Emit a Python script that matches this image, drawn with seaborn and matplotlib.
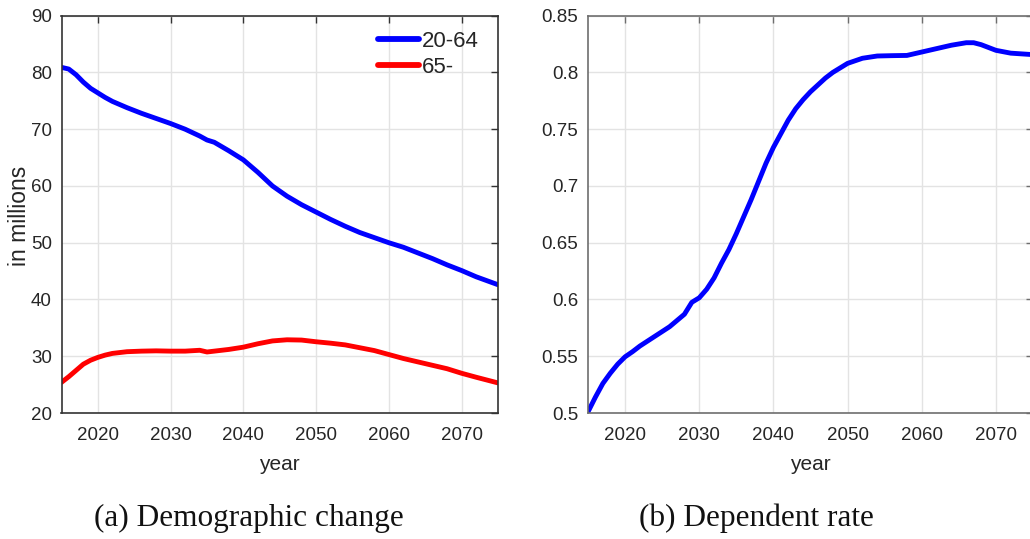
import matplotlib
matplotlib.use("Agg")
import matplotlib.pyplot as plt
import seaborn as sns
import pandas as pd
from matplotlib.ticker import FuncFormatter

# ---- data ----
years_working = [2015, 2016, 2017, 2018, 2019, 2020, 2021, 2022, 2024, 2026, 2028, 2030, 2032,
                 2034, 2035, 2036, 2038, 2040, 2042, 2044, 2046, 2048, 2050, 2052, 2054, 2056,
                 2058, 2060, 2062, 2064, 2066, 2068, 2070, 2072, 2075]
working_age = [80.9, 80.6, 79.6, 78.3, 77.2, 76.4, 75.6, 74.9, 73.8, 72.8, 71.9, 71.0, 70.0,
               68.8, 68.1, 67.7, 66.2, 64.6, 62.4, 60.0, 58.2, 56.7, 55.4, 54.1, 52.9, 51.8,
               50.9, 50.0, 49.2, 48.2, 47.2, 46.1, 45.1, 44.0, 42.6]

years_elderly = [2015, 2016, 2017, 2018, 2019, 2020, 2021, 2022, 2024, 2026, 2028, 2030, 2032,
                 2034, 2035, 2036, 2038, 2040, 2042, 2044, 2046, 2048, 2050, 2052, 2054, 2056,
                 2058, 2060, 2062, 2064, 2066, 2068, 2070, 2072, 2075]
elderly = [25.4, 26.4, 27.5, 28.6, 29.3, 29.8, 30.2, 30.5, 30.8, 30.9, 30.95, 30.9, 30.9,
           31.05, 30.75, 30.9, 31.2, 31.6, 32.2, 32.7, 32.9, 32.85, 32.55, 32.3, 32.0, 31.5,
           31.0, 30.3, 29.6, 29.0, 28.4, 27.8, 27.0, 26.3, 25.3]

years_ratio = [2015, 2016, 2017, 2018, 2019, 2020, 2021, 2022, 2024, 2026, 2028, 2029, 2030,
               2031, 2032, 2033, 2034, 2035, 2036, 2037, 2038, 2039, 2040, 2041, 2042, 2043,
               2044, 2045, 2046, 2047, 2048, 2049, 2050, 2052, 2054, 2056, 2058, 2060, 2062,
               2064, 2066, 2067, 2068, 2070, 2072, 2075]
dependent_rate = [0.501, 0.514, 0.526, 0.535, 0.543, 0.5495, 0.554, 0.559, 0.5675, 0.576, 0.587,
                  0.5975, 0.6015, 0.609, 0.619, 0.632, 0.644, 0.658, 0.673, 0.688, 0.704, 0.720,
                  0.734, 0.746, 0.758, 0.768, 0.776, 0.783, 0.789, 0.795, 0.800, 0.804, 0.808,
                  0.8125, 0.8145, 0.8148, 0.815, 0.818, 0.821, 0.824, 0.8262, 0.8262, 0.8245,
                  0.8195, 0.817, 0.8157]

series_labels = ["20-64", "65-"]
x_ticks = [2020, 2030, 2040, 2050, 2060, 2070]
y_ticks_left = [20, 30, 40, 50, 60, 70, 80, 90]
y_ticks_right = [0.5, 0.55, 0.6, 0.65, 0.7, 0.75, 0.8, 0.85]
captions = ["(a) Demographic change", "(b) Dependent rate"]

# ---- figure ----
sns.set_style("white")
plt.rcParams['font.family'] = ['Liberation Sans', 'DejaVu Sans']

fig = plt.figure(figsize=(10.30, 5.39), dpi=100)
ax1 = fig.add_axes([61.5 / 1030, 1 - 413 / 539, (498 - 61.5) / 1030, (413 - 15.7) / 539])
ax2 = fig.add_axes([588 / 1030, 1 - 413 / 539, (1033 - 588) / 1030, (413 - 15.7) / 539])

df_pop = pd.concat([
    pd.DataFrame({"year": years_working, "value": working_age, "group": series_labels[0]}),
    pd.DataFrame({"year": years_elderly, "value": elderly, "group": series_labels[1]}),
])
df_ratio = pd.DataFrame({"year": years_ratio, "rate": dependent_rate})

sns.lineplot(data=df_pop, x="year", y="value", hue="group", ax=ax1,
             palette={series_labels[0]: "#0000ff", series_labels[1]: "#ff0000"},
             linewidth=3.5, legend=True)
sns.lineplot(data=df_ratio, x="year", y="rate", ax=ax2, color="#0000ff", linewidth=3.5)

fmt = FuncFormatter(lambda v, p: f"{v:g}")
for ax, yt, ylim, sc in [(ax1, y_ticks_left, (20, 90), "#333333"),
                         (ax2, y_ticks_right, (0.5, 0.85), "#6e6e6e")]:
    ax.set_xlim(2015, 2075)
    ax.set_ylim(*ylim)
    ax.set_xticks(x_ticks)
    ax.set_yticks(yt)
    ax.yaxis.set_major_formatter(fmt)
    ax.grid(True, color="#e3e3e3", linewidth=1.0)
    ax.set_axisbelow(True)
    ax.tick_params(direction="in", length=5, width=1, colors=sc, labelcolor="#262626",
                   labelsize=13.5, top=True, right=True)
    ax.tick_params(axis="x", pad=10)
    ax.tick_params(axis="y", pad=7)
    for s in ax.spines.values():
        s.set_visible(True)
        s.set_color(sc)
        s.set_linewidth(1.2)
    ax.set_xlabel("year", fontsize=15, color="#262626", labelpad=8)

ax1.set_ylabel("in millions", fontsize=16.5, color="#262626")
ax1.yaxis.set_label_coords((31 - 61.5) / 436.5, 0.495)
ax2.set_ylabel("")

leg = ax1.legend(loc="upper left", bbox_to_anchor=((378 - 61.5) / 436.5, (413 - 31) / 397.3),
                 frameon=False, fontsize=16, handlelength=1.85, handletextpad=0.12,
                 labelspacing=0.22, borderaxespad=0, borderpad=0)
for h in leg.get_lines():
    h.set_linewidth(4.2)

fig.text(249 / 1030, 1 - 518 / 539, captions[0], ha="center", va="center",
         fontsize=22.5, family="Liberation Serif", color="#111111")
fig.text(756 / 1030, 1 - 518 / 539, captions[1], ha="center", va="center",
         fontsize=22.5, family="Liberation Serif", color="#111111")

fig.savefig("out.png", dpi=100)
